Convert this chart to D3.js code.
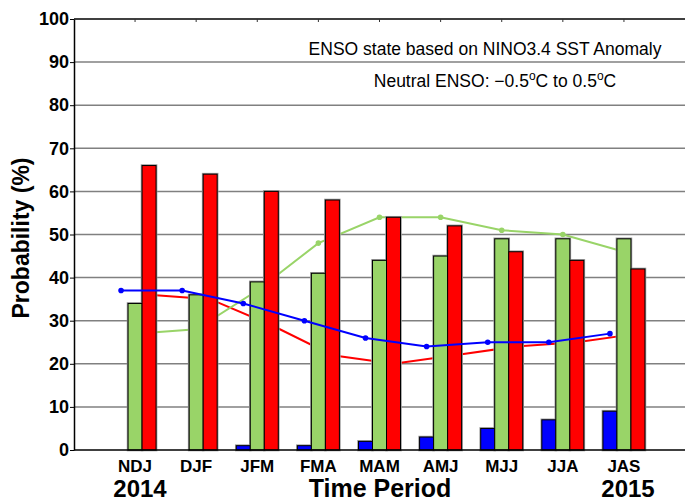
<!DOCTYPE html>
<html>
<head>
<meta charset="utf-8">
<script src="https://cdn.jsdelivr.net/npm/d3@7"></script>
<style>
  body { margin: 0; background: #fff; }
  svg { display: block; font-family: "Liberation Sans", Arial, Helvetica, sans-serif; }
</style>
</head>
<body>
<div class="chart"></div>
<script>
// seasons and the probabilities
const seasons = ['NDJ', 'DJF', 'JFM', 'FMA', 'MAM', 'AMJ', 'MJJ', 'JJA', 'JAS'];
const laNina  = [0, 0, 1, 1, 2, 3, 5, 7, 9];
const neutral = [34, 36, 39, 41, 44, 45, 49, 49, 49];
const elNino  = [66, 64, 60, 58, 54, 52, 46, 44, 42];

// climatological probabilities (the thin lines)
const climLaNina  = [37, 37, 34, 30, 26, 24, 25, 25, 27];
const climNeutral = [27, 28, 37, 48, 54, 54, 51, 50, 46];
const climElNino  = [36, 35, 29, 22, 20, 22, 24, 25, 27];

const yTicks = [0, 10, 20, 30, 40, 50, 60, 70, 80, 90, 100];

const colors = { la: '#0000ff', neu: '#99d468', el: '#ff0000' };

const W = 685, H = 498;
const plot = { left: 74, right: 720, top: 19, bottom: 450 };

const svg = d3.select('.chart')
  .append('svg')
  .attr('width', W)
  .attr('height', H);

// scales
const xScale = d3.scaleBand()
  .domain(seasons)
  .range([104.5, 654.5]);

const inner = d3.scaleBand()
  .domain(['la', 'neu', 'el'])
  .range([-21, 21]);

const yScale = d3.scaleLinear()
  .domain([0, 100])
  .range([plot.bottom, plot.top]);

const cx = s => xScale(s) + xScale.bandwidth() / 2;

// horizontal grid
svg.append('g')
  .selectAll('line')
  .data(yTicks.filter(t => t > 0))
  .join('line')
  .attr('x1', plot.left)
  .attr('x2', plot.right)
  .attr('y1', d => yScale(d))
  .attr('y2', d => yScale(d))
  .attr('stroke', d => d === 100 ? '#000' : '#808080')
  .attr('stroke-width', 1.5);

// top ticks at season centres
svg.append('g')
  .attr('transform', `translate(0, ${plot.top})`)
  .call(d3.axisBottom(xScale).tickSize(3).tickFormat(''))
  .call(g => g.select('.domain').remove())
  .selectAll('line').attr('stroke', '#333');

// annotation text
svg.append('text')
  .attr('x', 485).attr('y', 55)
  .attr('text-anchor', 'middle')
  .attr('font-size', 17.5)
  .text('ENSO state based on NINO3.4 SST Anomaly');

const note = svg.append('text')
  .attr('x', 495).attr('y', 87)
  .attr('text-anchor', 'middle')
  .attr('font-size', 17.5);
note.append('tspan').text('Neutral ENSO: \u22120.5');
note.append('tspan').attr('font-size', 12).attr('dy', -7).text('o');
note.append('tspan').attr('dy', 7).text('C to 0.5');
note.append('tspan').attr('font-size', 12).attr('dy', -7).text('o');
note.append('tspan').attr('dy', 7).text('C');

// climatology lines that sit behind the bars
const line = key => d3.line()
  .x((d, i) => cx(seasons[i]) + inner(key) + inner.bandwidth() / 2)
  .y(d => yScale(d));

function drawClim(values, key) {
  const g = svg.append('g').attr('class', 'clim ' + key);
  g.append('path')
    .datum(values)
    .attr('d', line(key))
    .attr('fill', 'none')
    .attr('stroke', colors[key])
    .attr('stroke-width', 2);
  g.selectAll('circle')
    .data(values)
    .join('circle')
    .attr('cx', (d, i) => cx(seasons[i]) + inner(key) + inner.bandwidth() / 2)
    .attr('cy', d => yScale(d))
    .attr('r', 2.8)
    .attr('fill', colors[key]);
}

drawClim(climElNino, 'el');
drawClim(climNeutral, 'neu');

// bars
const barData = [];
seasons.forEach((s, i) => {
  barData.push({ s, key: 'la', v: laNina[i] });
  barData.push({ s, key: 'neu', v: neutral[i] });
  barData.push({ s, key: 'el', v: elNino[i] });
});
const shown = barData.filter(d => d.v > 0);

const bars = svg.append('g').attr('class', 'bars');

// soft grey halo first, then the bar itself
bars.selectAll('.halo')
  .data(shown)
  .join('rect')
  .attr('class', 'halo')
  .attr('x', d => cx(d.s) + inner(d.key))
  .attr('y', d => yScale(d.v))
  .attr('width', inner.bandwidth())
  .attr('height', d => plot.bottom - yScale(d.v))
  .attr('fill', 'none')
  .attr('stroke', '#9a9a9a')
  .attr('stroke-width', 2.6);

bars.selectAll('.bar')
  .data(shown)
  .join('rect')
  .attr('class', 'bar')
  .attr('x', d => cx(d.s) + inner(d.key))
  .attr('y', d => yScale(d.v))
  .attr('width', inner.bandwidth())
  .attr('height', d => plot.bottom - yScale(d.v))
  .attr('fill', d => colors[d.key])
  .attr('stroke', '#000')
  .attr('stroke-width', 1);

// blue climatology is drawn over the bars
drawClim(climLaNina, 'la');

// y axis
const yAxis = d3.axisLeft(yScale)
  .tickValues(yTicks)
  .tickSize(4)
  .tickSizeOuter(0);

const yAxisDraw = svg.append('g')
  .attr('transform', `translate(${plot.left}, 0)`)
  .call(yAxis);
yAxisDraw.select('.domain').attr('stroke', '#000').attr('stroke-width', 1.5);
yAxisDraw.selectAll('line').attr('stroke', '#000');
yAxisDraw.selectAll('text')
  .attr('x', -5)
  .attr('font-size', 18)
  .attr('font-weight', 'bold')
  .attr('fill', '#000')
  .attr('font-family', '"Liberation Sans", Arial, sans-serif');

// x axis line
svg.append('line')
  .attr('x1', plot.left).attr('x2', plot.right)
  .attr('y1', plot.bottom).attr('y2', plot.bottom)
  .attr('stroke', '#000')
  .attr('stroke-width', 1.5);

// season labels
svg.append('g')
  .selectAll('text')
  .data(seasons)
  .join('text')
  .attr('x', d => cx(d))
  .attr('y', 472)
  .attr('text-anchor', 'middle')
  .attr('font-size', 17)
  .attr('font-weight', 'bold')
  .text(d => d);

// bottom titles
svg.append('text')
  .attr('x', 140).attr('y', 497)
  .attr('text-anchor', 'middle')
  .attr('font-size', 24).attr('font-weight', 'bold')
  .text('2014');

svg.append('text')
  .attr('x', 380).attr('y', 497)
  .attr('text-anchor', 'middle')
  .attr('font-size', 25).attr('font-weight', 'bold')
  .text('Time Period');

svg.append('text')
  .attr('x', 628).attr('y', 497)
  .attr('text-anchor', 'middle')
  .attr('font-size', 24).attr('font-weight', 'bold')
  .text('2015');

svg.append('text')
  .attr('transform', 'translate(29, 238) rotate(-90)')
  .attr('text-anchor', 'middle')
  .attr('font-size', 23)
  .attr('font-weight', 'bold')
  .text('Probability (%)');
</script>
</body>
</html>
